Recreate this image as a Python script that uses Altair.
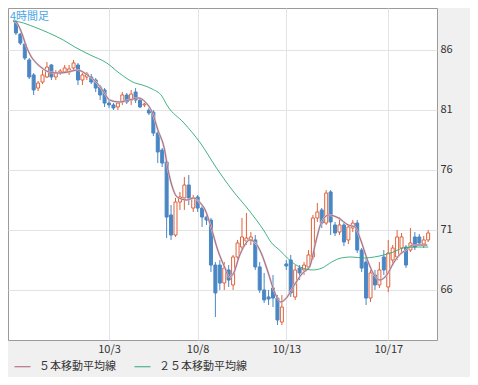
import altair as alt
import pandas as pd

# ---- candle data (4-hour bars) ----
opens = [88.33, 87.33, 86.5, 85.17, 83.92, 82.83, 83.33, 83.75, 84.75, 83.75,
         84.08, 84.17, 84.17, 84.5, 84.75, 83.5, 83.75, 83.75, 83.5, 82.92,
         82.67, 81.58, 81.42, 81.25, 81.67, 82.25, 81.83, 82.5, 81.83, 81.42,
         81.0, 80.83, 79.08, 77.67, 76.67, 72.25, 70.58, 73.33, 73.67, 74.75,
         72.83, 73.75, 72.83, 72.08, 71.83, 68.08, 68.08, 66.58, 67.67, 66.42,
         68.75, 69.58, 70.08, 70.17, 70.17, 67.92, 66.0, 65.42, 66.17, 65.33,
         63.33, 68.17, 68.5, 65.42, 67.83, 67.67, 67.92, 68.75, 72.0, 72.67,
         71.58, 74.17, 71.42, 70.83, 71.42, 70.17, 71.17, 71.58, 69.33, 68.33,
         65.33, 67.25, 66.42, 68.75, 66.25, 68.5, 68.75, 69.5, 69.58, 69.33,
         70.42, 70.42, 69.83, 70.17]
closes = [87.42, 86.58, 85.33, 83.75, 82.67, 83.25, 83.92, 84.58, 83.75, 84.08,
          84.25, 84.5, 84.42, 84.92, 83.5, 83.92, 84.0, 83.33, 82.83, 82.25,
          81.58, 81.42, 81.17, 81.58, 82.25, 81.67, 82.33, 81.83, 81.25, 81.5,
          80.75, 79.08, 77.5, 76.58, 72.08, 70.58, 73.33, 73.75, 74.75, 73.67,
          73.67, 72.83, 72.08, 71.83, 68.08, 65.75, 66.58, 67.83, 66.83, 68.75,
          69.92, 70.42, 70.33, 70.42, 67.92, 66.0, 65.17, 65.25, 65.33, 63.5,
          64.58, 68.0, 65.75, 67.67, 67.42, 68.08, 68.92, 72.0, 72.5, 71.58,
          74.08, 71.67, 70.75, 71.42, 70.0, 71.25, 71.58, 69.33, 67.83, 65.33,
          67.42, 66.42, 67.67, 67.67, 69.08, 69.5, 70.42, 70.42, 68.08, 69.92,
          69.58, 69.92, 70.17, 70.75]
highs = [88.5, 87.42, 86.58, 85.33, 84.08, 83.42, 84.33, 85.0, 84.83, 84.33,
         84.42, 84.75, 84.75, 85.17, 84.92, 84.08, 84.17, 84.0, 83.67, 83.08,
         82.83, 81.83, 81.58, 81.75, 82.5, 82.42, 82.67, 82.83, 82.0, 81.58,
         81.17, 81.0, 79.25, 77.83, 76.83, 73.08, 73.67, 74.17, 75.42, 75.58,
         73.92, 73.92, 73.08, 72.25, 72.0, 68.33, 68.5, 68.33, 68.08, 68.92,
         70.17, 72.0, 72.42, 70.83, 70.58, 68.33, 67.42, 66.0, 67.25, 65.58,
         65.58, 68.5, 68.92, 68.08, 68.08, 68.33, 69.33, 72.25, 73.25, 72.83,
         74.33, 74.33, 71.67, 72.08, 71.67, 71.5, 71.83, 71.83, 69.5, 68.67,
         67.67, 67.67, 68.33, 69.33, 70.17, 69.75, 71.0, 70.75, 69.75, 71.17,
         70.83, 70.67, 70.5, 71.0]
lows = [87.25, 86.42, 85.17, 83.58, 82.25, 82.58, 83.17, 83.67, 83.5, 83.5,
        83.92, 84.08, 83.92, 84.33, 83.08, 83.08, 83.5, 83.17, 82.5, 81.83,
        81.25, 81.17, 81.0, 81.0, 81.42, 81.5, 81.42, 81.58, 81.17, 81.25,
        80.58, 78.83, 76.58, 76.25, 70.33, 70.17, 70.42, 72.67, 72.67, 73.08,
        72.5, 72.5, 71.25, 71.42, 67.5, 63.75, 66.0, 66.0, 66.25, 66.0,
        68.5, 69.33, 69.75, 69.75, 67.67, 65.75, 64.92, 64.75, 64.58, 63.08,
        63.08, 67.67, 65.42, 65.17, 66.83, 67.25, 67.67, 68.5, 71.67, 71.17,
        71.42, 70.58, 70.5, 70.58, 69.67, 69.83, 70.83, 69.08, 67.5, 64.75,
        65.0, 66.0, 66.17, 67.25, 65.83, 68.08, 68.5, 69.17, 67.83, 69.17,
        69.33, 69.67, 69.5, 70.0]

# ---- moving averages (bar position, value) ----
ma5_i = [-0.65, 0.22, 1.31, 2.40, 3.49, 4.58, 5.88, 7.41, 9.59, 11.76,
         13.94, 16.12, 18.30, 19.83, 21.13, 23.31, 25.49, 27.67, 29.19, 30.72,
         32.03, 33.55, 34.20, 35.29, 36.38, 38.56, 40.09, 41.61, 42.70, 44.01,
         45.53, 47.06, 48.15, 49.24, 50.33, 51.63, 52.72, 54.03, 55.34, 56.86,
         58.17, 59.69, 61.22, 62.53, 64.71, 66.23, 67.76, 68.85, 70.59, 72.77,
         74.95, 76.47, 77.78, 79.30, 80.83, 82.14, 83.66, 85.19, 86.49, 88.02,
         89.54, 91.29, 92.81]
ma5_v = [88.42, 88.25, 87.42, 86.25, 85.42, 84.92, 84.5, 84.17, 84.08, 84.17,
         84.33, 83.92, 83.25, 82.5, 81.83, 81.67, 81.83, 82.0, 81.67, 80.83,
         79.33, 77.67, 76.25, 74.58, 73.75, 73.5, 73.67, 73.25, 72.67, 71.25,
         69.33, 67.92, 67.08, 67.5, 68.75, 69.75, 70.17, 69.92, 69.08, 67.5,
         66.0, 65.0, 65.42, 66.25, 67.42, 67.92, 70.17, 71.58, 72.25, 72.0,
         71.42, 71.25, 70.17, 68.5, 67.25, 66.83, 67.25, 68.25, 68.92, 69.33,
         69.75, 69.75, 69.75]
ma25_i = [-0.65, 0.87, 4.14, 7.41, 10.68, 13.29, 16.78, 20.48, 23.31, 26.36,
          29.19, 30.72, 32.90, 34.20, 37.91, 41.61, 45.10, 48.80, 52.51, 55.99,
          57.52, 59.69, 61.22, 62.53, 64.71, 66.88, 69.06, 71.24, 73.42, 75.60,
          78.65, 80.83, 83.01, 85.19, 87.36, 90.20, 93.03]
ma25_v = [88.42, 88.33, 87.92, 87.42, 86.83, 86.25, 85.58, 84.92, 84.08, 83.33,
          83.0, 82.75, 82.17, 81.33, 79.92, 78.25, 76.25, 74.33, 72.67, 70.92,
          70.0, 69.25, 68.67, 68.25, 67.83, 67.67, 67.83, 68.33, 68.67, 68.75,
          68.67, 68.75, 68.92, 69.17, 69.5, 69.58, 69.58]

tick_idx = [21, 41, 61, 84]
tick_lbl = ["10/3", "10/8", "10/13", "10/17"]
y_ticks = [66, 71, 76, 81, 86]
series_names = ["５本移動平均線", "２５本移動平均線"]
frame_label = "4時間足"

FONT = "Noto Sans CJK JP"
BLUE = "#4a86c4"
ORANGE = "#e0623c"
PINK = "#b0587a"
GREEN = "#2fa874"
TXT = "#333333"

candles = pd.DataFrame({"i": list(range(len(opens))), "open": opens,
                        "close": closes, "high": highs, "low": lows})
ma5_df = pd.DataFrame({"i": ma5_i, "v": ma5_v, "s": series_names[0]})
ma25_df = pd.DataFrame({"i": ma25_i, "v": ma25_v, "s": series_names[1]})
ma_df = pd.concat([ma5_df, ma25_df], ignore_index=True)
label_df = pd.DataFrame({"t": [frame_label]})

label_expr = "".join(f"datum.value == {i} ? '{l}' : " for i, l in zip(tick_idx, tick_lbl)) + "''"

x_scale = alt.Scale(domain=[-0.66, 93.87], nice=False, zero=False)
x_axis = alt.Axis(values=tick_idx, labelExpr=label_expr, grid=True, gridColor="#e3e3e3",
                  ticks=False, tickSize=0, domain=False, labelPadding=3,
                  labelFontSize=11, labelColor=TXT, labelFont=FONT, labelFlush=False)
y_scale = alt.Scale(domain=[61.833, 89.5], nice=False, zero=False)
y_axis = alt.Axis(orient="right", values=y_ticks, grid=True, gridColor="#e3e3e3",
                  ticks=False, tickSize=0, domain=False, labelPadding=3,
                  labelFontSize=11, labelColor=TXT, labelFont=FONT)


def X():
    return alt.X("i:Q", scale=x_scale, axis=x_axis, title=None)


def Y(f):
    return alt.Y(f"{f}:Q", scale=y_scale, axis=y_axis, title=None)


up_test = "datum.close >= datum.open"

wicks = alt.Chart(candles).mark_rule(strokeWidth=1).encode(
    x=X(), y=Y("low"), y2="high",
    color=alt.condition(up_test, alt.value(ORANGE), alt.value(BLUE)))

down_bodies = alt.Chart(candles).transform_filter("datum.close < datum.open").mark_bar(
    size=3, fill=BLUE, stroke=BLUE, strokeWidth=1).encode(x=X(), y=Y("open"), y2="close")

up_bodies = alt.Chart(candles).transform_filter(up_test).mark_bar(
    size=3, fill="white", stroke=ORANGE, strokeWidth=1).encode(x=X(), y=Y("open"), y2="close")

ma5_shadow = alt.Chart(ma5_df).mark_line(
    color="#cbcbcb", strokeWidth=2, interpolate="monotone", clip=True).encode(x=X(), y=Y("v"))

ma_lines = alt.Chart(ma_df).mark_line(strokeWidth=0.9, interpolate="monotone", clip=True).encode(
    x=X(), y=Y("v"),
    color=alt.Color("s:N", scale=alt.Scale(domain=series_names, range=[PINK, GREEN]),
                    legend=alt.Legend(title=None, orient="none", legendX=6, legendY=350,
                                      direction="horizontal", columns=2,
                                      symbolType="stroke", symbolSize=256,
                                      symbolStrokeWidth=1, labelFont=FONT,
                                      labelFontSize=11, labelColor=TXT,
                                      columnPadding=16, labelOffset=8, padding=0)),
    detail="s:N")

frame_text = alt.Chart(label_df).mark_text(
    align="left", baseline="middle", color="#48a6e6", fontSize=11, font=FONT).encode(
    x=alt.value(2), y=alt.value(9), text="t:N")

chart = alt.layer(wicks, down_bodies, up_bodies, ma5_shadow, ma_lines, frame_text).properties(
    width=429, height=332,
    padding={"left": 0, "top": 0, "right": 33, "bottom": 37},
    autosize=alt.AutoSizeParams(type="none"),
    background="#f0f0f0",
).configure_view(fill="white", stroke="#9a9a9a", strokeWidth=1)

chart.save("out.html", embed_options={"renderer": "svg", "actions": False})
